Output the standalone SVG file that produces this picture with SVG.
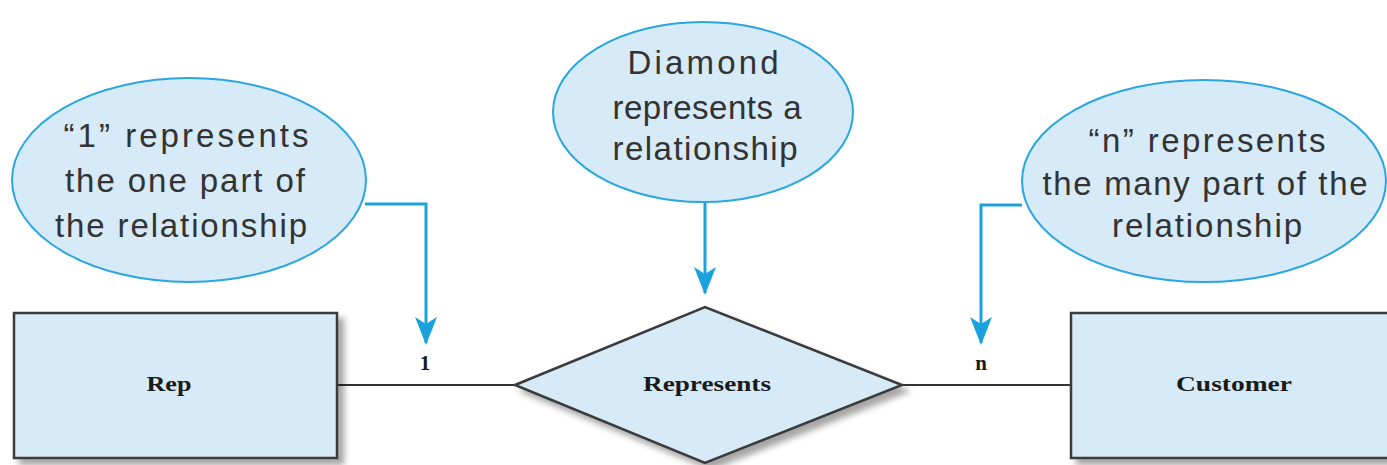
<svg xmlns="http://www.w3.org/2000/svg" width="1387" height="465" viewBox="0 0 1387 465">
<style>
.bubble{fill:#d6eaf8;stroke:#2aa6e0;stroke-width:2}
.btxt{font-family:"Liberation Sans",Arial,sans-serif;font-size:33px;fill:#333;text-anchor:middle}
.ent{fill:#d6eaf8;stroke:#3a3a3a;stroke-width:2.5}
.etxt{font-family:"Liberation Serif","Times New Roman",serif;font-weight:bold;font-size:22px;fill:#1a1a1a;text-anchor:middle}
.ctxt{font-family:"Liberation Serif","Times New Roman",serif;font-weight:bold;font-size:21px;fill:#1a1a1a;text-anchor:middle}
.call{fill:none;stroke:#1ba1dd;stroke-width:3}
.rel{fill:none;stroke:#333;stroke-width:2}
</style>
<defs>
<marker id="arr" viewBox="0 0 28 22" refX="26" refY="11" markerWidth="28" markerHeight="22" orient="auto" markerUnits="userSpaceOnUse">
<path d="M0,0 L28,11 L0,22 L7,11 z" fill="#1ba1dd"/>
</marker>
<filter id="sh" x="-10%" y="-10%" width="130%" height="130%">
<feGaussianBlur in="SourceAlpha" stdDeviation="3"/>
<feOffset dx="6" dy="6" result="b"/>
<feComponentTransfer><feFuncA type="linear" slope="0.35"/></feComponentTransfer>
<feMerge><feMergeNode/><feMergeNode in="SourceGraphic"/></feMerge>
</filter>
</defs>
<g id="connectors">
<path class="rel" d="M337,385 L515,385"/>
<path class="rel" d="M902,385 L1071,385"/>
<path class="call" d="M365,204 L426,204 L426,343" marker-end="url(#arr)"/>
<path class="call" d="M705,202 L705,293" marker-end="url(#arr)"/>
<path class="call" d="M1022,205 L981,205 L981,343" marker-end="url(#arr)"/>
</g>
<g id="note-one">
<ellipse class="bubble" cx="189" cy="180" rx="177" ry="102"/>
<text class="btxt" x="186" y="147" textLength="245" lengthAdjust="spacing">“1”  represents</text>
<text class="btxt" x="185" y="192" textLength="240" lengthAdjust="spacing">the one part of</text>
<text class="btxt" x="181" y="237" textLength="252" lengthAdjust="spacing">the relationship</text>
</g>
<g id="note-diamond">
<ellipse class="bubble" cx="703" cy="112" rx="150" ry="90"/>
<text class="btxt" x="703" y="74" textLength="151" lengthAdjust="spacing">Diamond</text>
<text class="btxt" x="707" y="119" textLength="189" lengthAdjust="spacing">represents a</text>
<text class="btxt" x="705" y="160" textLength="185" lengthAdjust="spacing">relationship</text>
</g>
<g id="note-many">
<ellipse class="bubble" cx="1204" cy="181" rx="182" ry="101"/>
<text class="btxt" x="1207" y="152" textLength="237" lengthAdjust="spacing">“n” represents</text>
<text class="btxt" x="1205" y="195" textLength="325" lengthAdjust="spacing">the many part of the</text>
<text class="btxt" x="1207" y="237" textLength="190" lengthAdjust="spacing">relationship</text>
</g>
<g id="rep">
<rect class="ent" x="14" y="313" width="323" height="145" filter="url(#sh)"/>
<text class="etxt" x="169" y="391" textLength="45" lengthAdjust="spacingAndGlyphs">Rep</text>
</g>
<g id="represents">
<polygon class="ent" points="515,385 705,307 902,385 705,463" filter="url(#sh)"/>
<text class="etxt" x="707" y="391" textLength="128" lengthAdjust="spacingAndGlyphs">Represents</text>
</g>
<g id="customer">
<rect class="ent" x="1071" y="313" width="330" height="145" filter="url(#sh)"/>
<text class="etxt" x="1234" y="391" textLength="116" lengthAdjust="spacingAndGlyphs">Customer</text>
</g>
<g id="cardinality">
<text class="ctxt" x="425" y="370">1</text>
<text class="ctxt" x="981" y="370">n</text>
</g>
</svg>
